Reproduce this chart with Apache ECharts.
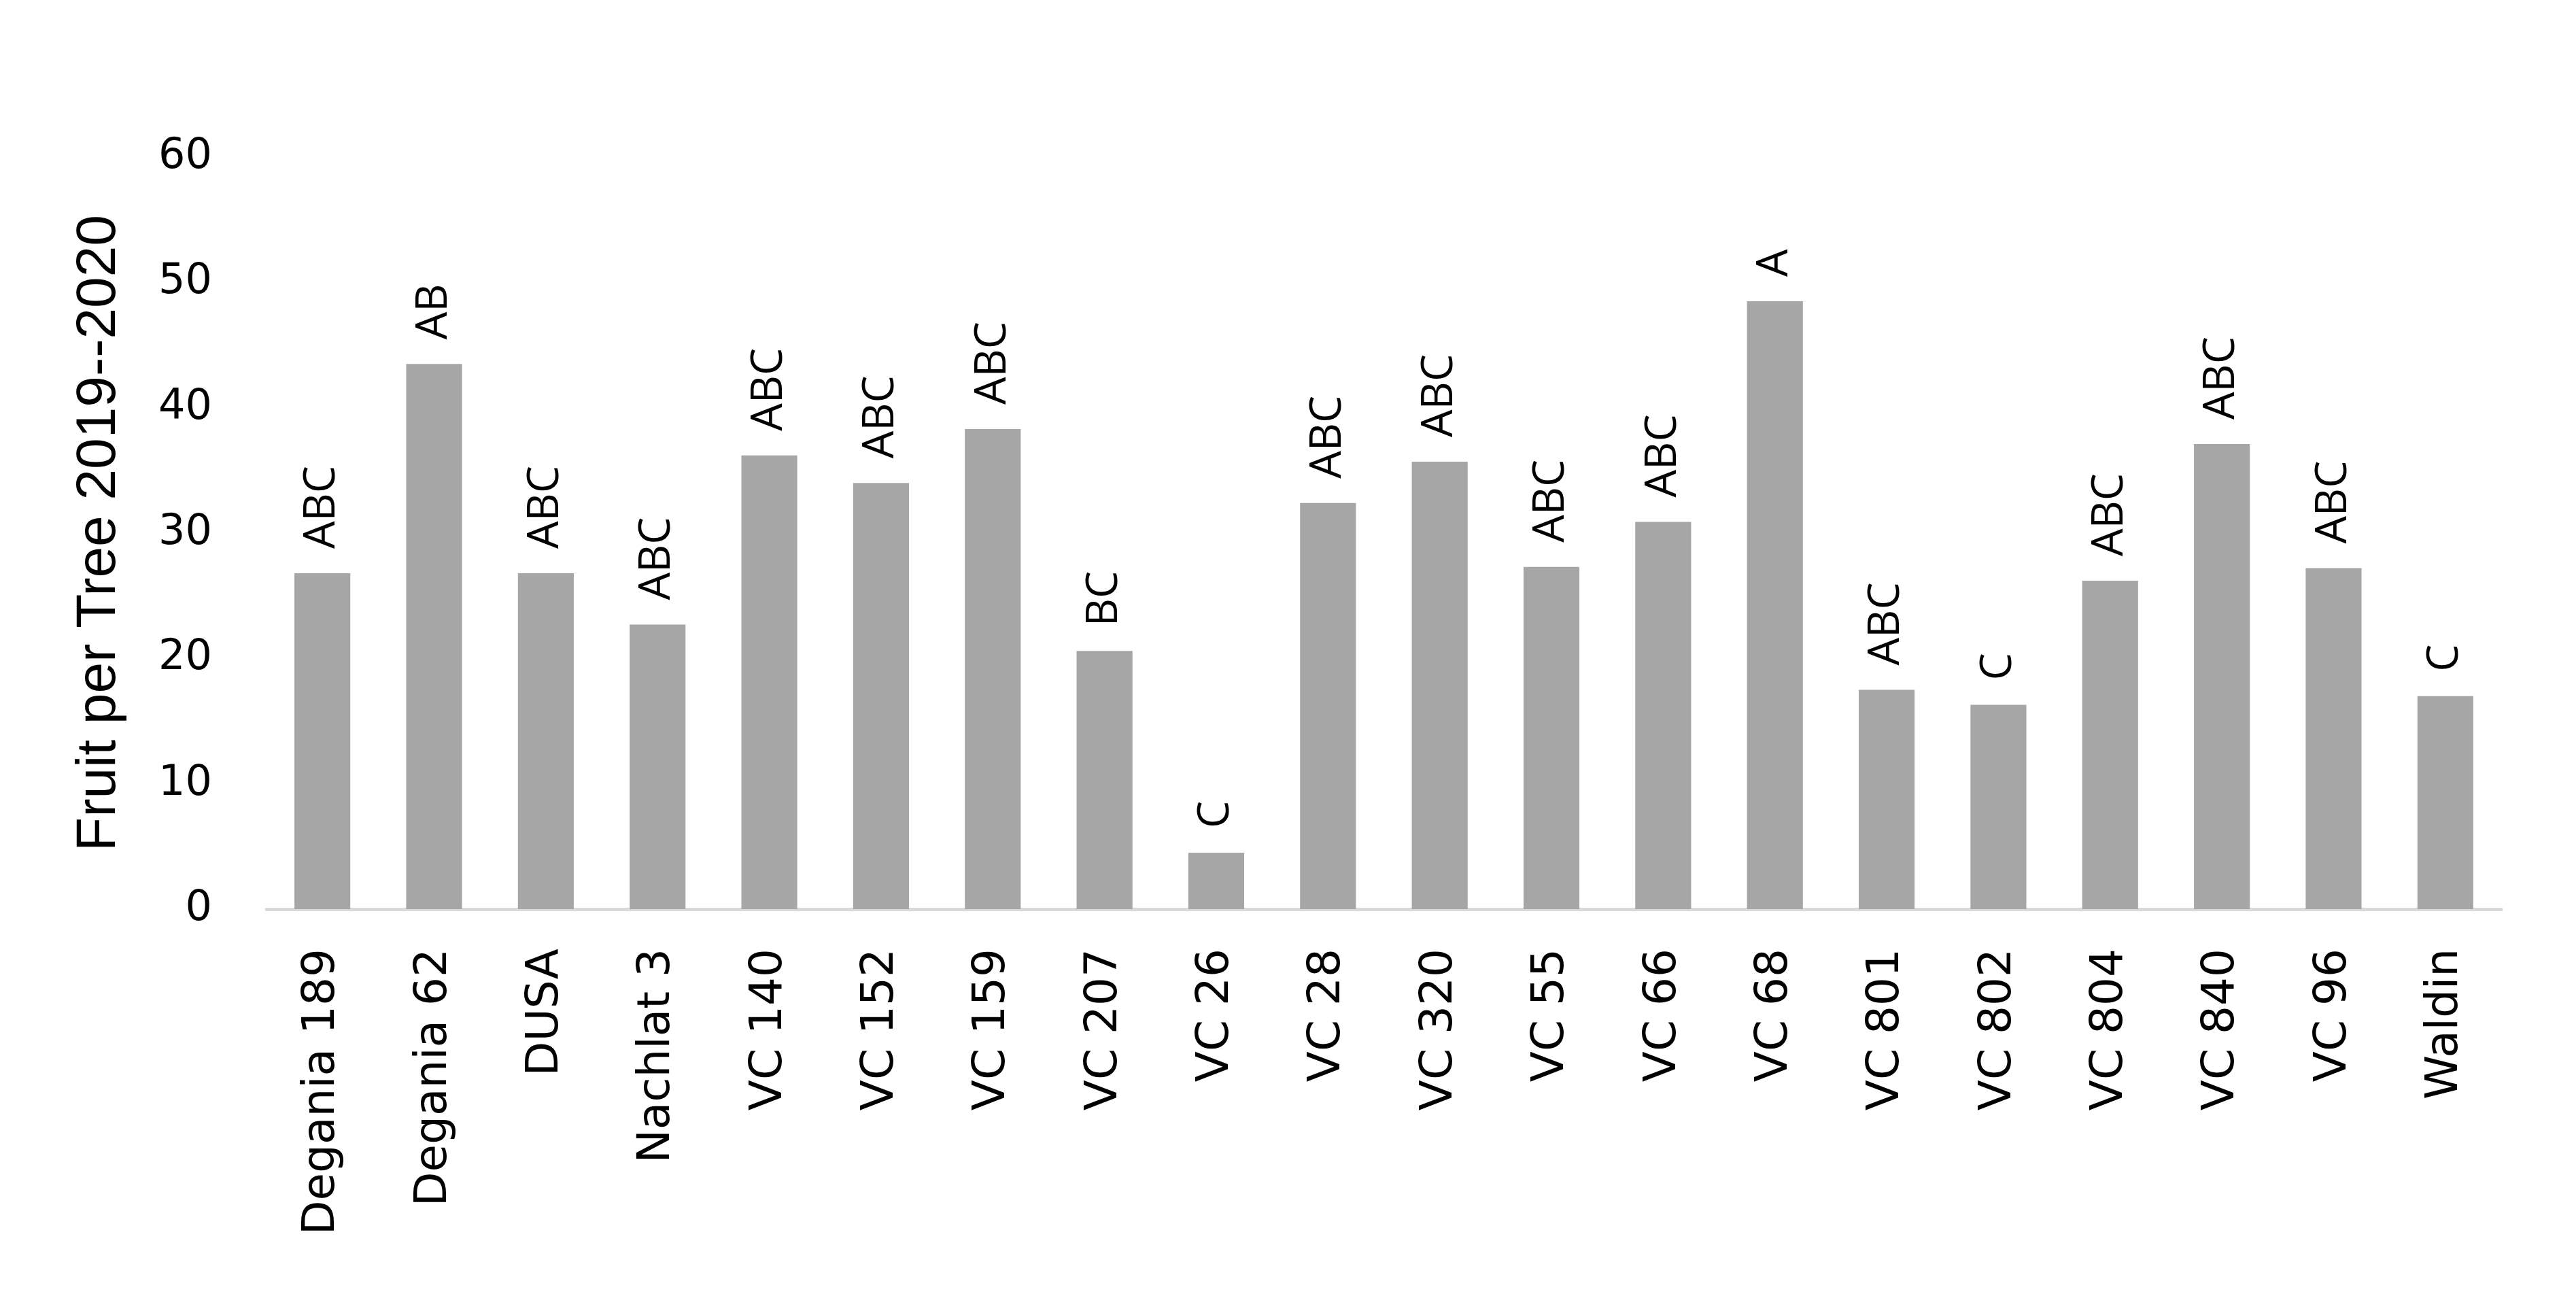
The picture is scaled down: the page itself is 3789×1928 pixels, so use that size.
<!DOCTYPE html>
<html>
<head>
<meta charset="utf-8">
<script src="https://cdn.jsdelivr.net/npm/echarts@6/dist/echarts.min.js"></script>
<style>
  html, body { margin: 0; padding: 0; background: #fff; }
  #chart { width: 3789px; height: 1928px; }
</style>
</head>
<body>
<div id="chart"></div>
<script>
// cultivars on the x axis
const cultivars = ['Degania 189', 'Degania 62', 'DUSA', 'Nachlat 3', 'VC 140', 'VC 152', 'VC 159', 'VC 207',
  'VC 26', 'VC 28', 'VC 320', 'VC 55', 'VC 66', 'VC 68', 'VC 801', 'VC 802', 'VC 804', 'VC 840', 'VC 96', 'Waldin'];
// fruit per tree
const fruitPerTree = [26.8, 43.5, 26.8, 22.7, 36.2, 34.0, 38.3, 20.6,
  4.5, 32.4, 35.7, 27.3, 30.9, 48.5, 17.5, 16.3, 26.2, 37.1, 27.2, 17.0];
// significance letters above the bars
const groupLetters = ['ABC', 'AB', 'ABC', 'ABC', 'ABC', 'ABC', 'ABC', 'BC',
  'C', 'ABC', 'ABC', 'ABC', 'ABC', 'A', 'ABC', 'C', 'ABC', 'ABC', 'ABC', 'C'];
const yTicks = [0, 10, 20, 30, 40, 50, 60];

const chart = echarts.init(document.getElementById('chart'));
const option = {
  animation: false,
  grid: { left: 392, right: 110, top: 231, bottom: 591 },
  xAxis: {
    type: 'category',
    data: cultivars,
    axisLine: { lineStyle: { color: '#d9d9d9', width: 5 } },
    axisTick: { show: false },
    axisLabel: {
      rotate: 90,
      interval: 0,
      margin: 58,
      color: '#000',
      fontFamily: 'DejaVu Sans',
      fontSize: 66
    }
  },
  yAxis: {
    type: 'value',
    min: yTicks[0],
    max: yTicks[yTicks.length - 1],
    interval: 10,
    name: 'Fruit per Tree 2019--2020',
    nameLocation: 'middle',
    nameGap: 205,
    nameTextStyle: { color: '#000', fontFamily: 'Liberation Sans', fontSize: 82 },
    axisLine: { show: false },
    axisTick: { show: false },
    splitLine: { show: false },
    axisLabel: { margin: 80, color: '#000', fontFamily: 'DejaVu Sans', fontSize: 62 }
  },
  series: [{
    type: 'bar',
    data: fruitPerTree,
    barWidth: '50%',
    itemStyle: { color: '#a6a6a6' },
    label: {
      show: true,
      position: 'top',
      distance: 36,
      rotate: 90,
      align: 'left',
      verticalAlign: 'middle',
      color: '#000',
      fontFamily: 'Open Sans',
      fontSize: 64,
      formatter: p => groupLetters[p.dataIndex]
    }
  }]
};
chart.setOption(option);
</script>
</body>
</html>
